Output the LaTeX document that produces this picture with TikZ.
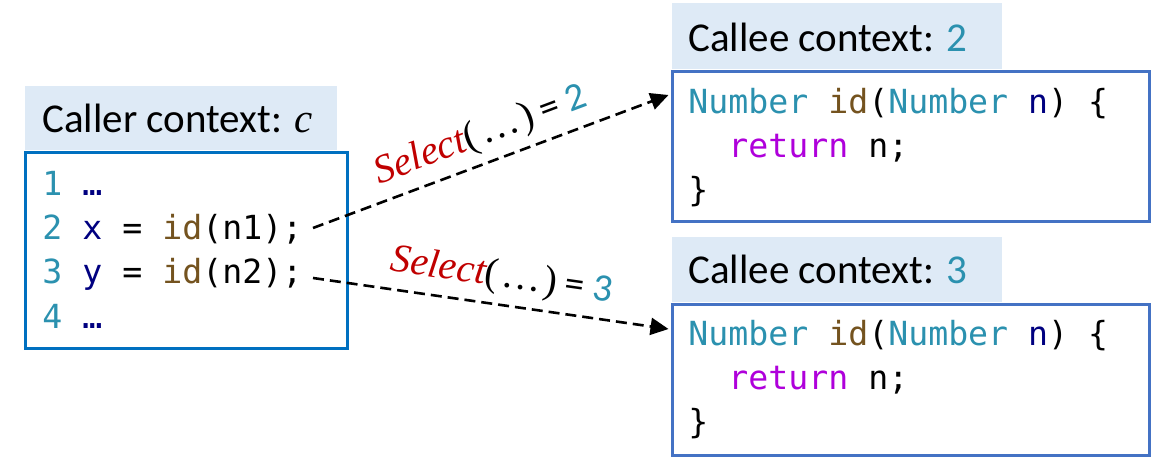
\documentclass[tikz,border=0pt]{standalone}
\usepackage{fontspec}
\setmainfont{Carlito}
\newfontfamily\codefont{DejaVu Sans Mono}
\newfontfamily\selfont{Liberation Serif}
\usetikzlibrary{arrows.meta}
\definecolor{headfill}{HTML}{DEEAF6}
\definecolor{callerblue}{HTML}{0070C0}
\definecolor{calleeblue}{HTML}{4472C4}
\definecolor{tealc}{HTML}{2B91AF}
\definecolor{navyc}{HTML}{000080}
\definecolor{brownc}{HTML}{74531F}
\definecolor{purplec}{HTML}{AF00DB}
\definecolor{redc}{HTML}{C00000}
\tikzset{
  headbox/.style={fill=headfill, draw=none, inner sep=0pt},
  callerframe/.style={draw=callerblue, line width=1.5pt, inner sep=0pt, fill=white},
  calleeframe/.style={draw=calleeblue, line width=1.5pt, inner sep=0pt, fill=white},
  headtext/.style={anchor=base west, inner sep=0pt, font=\fontsize{20.5}{24}\selectfont},
  codetext/.style={anchor=base west, inner sep=0pt, font=\codefont\fontsize{16.6}{20}\selectfont},
  conn/.style={draw=black, line width=1.3pt, dash pattern=on 5.5pt off 3pt, -{Triangle[length=9pt,width=8.5pt]}},
  sellabel/.style={sloped, above=4pt, inner sep=0pt, pos=0.5}
}
\newcommand{\selname}{{\color{redc}\selfont\itshape\fontsize{20}{24}\selectfont Select}}
\newcommand{\selargs}{{\selfont\fontsize{20}{24}\selectfont(\kern1.5pt…\kern1.5pt)}}
\newcommand{\seleq}[1]{{\fontsize{19.5}{22}\selectfont\kern4pt= {\color{tealc}#1}}}
\begin{document}
\begin{tikzpicture}[x=0.5pt,y=-0.5pt]
\useasboundingbox (0,0) rectangle (1165,460);
% caller
\node[headbox, minimum width=156pt, minimum height=32pt] (h0) at (181,118) {};
\node[callerframe, minimum width=161pt, minimum height=98pt] (b0) at (186,250) {};
\node[headtext] (t0) at (42,133) {Caller context: {\selfont\itshape c}};
\node[codetext] (c1) at (42,195) {{\color{tealc}1} {\color{navyc}…}};
\node[codetext] (c2) at (42,239) {{\color{tealc}2} {\color{navyc}x} = {\color{brownc}id}(n1);};
\node[codetext] (c3) at (42,283) {{\color{tealc}3} {\color{navyc}y} = {\color{brownc}id}(n2);};
\node[codetext] (c4) at (42,328) {{\color{tealc}4} {\color{navyc}…}};
% callee 2
\node[headbox, minimum width=165pt, minimum height=33pt] (h1) at (837,36) {};
\node[calleeframe, minimum width=238.5pt, minimum height=74.5pt] (b1) at (910.5,146.5) {};
\node[headtext] (t1) at (688,52) {Callee context: {\color{tealc}2}};
\node[codetext] (d1) at (688,113) {{\color{tealc}Number} {\color{brownc}id}({\color{tealc}Number} {\color{navyc}n}) \{};
\node[codetext] (d2) at (688,157) {\ \ {\color{purplec}return} n;};
\node[codetext] (d3) at (688,201) {\}};
% callee 3
\node[headbox, minimum width=165pt, minimum height=32.5pt] (h2) at (837,269.5) {};
\node[calleeframe, minimum width=238.5pt, minimum height=75.5pt] (b2) at (910.5,379.5) {};
\node[headtext] (t2) at (688,283) {Callee context: {\color{tealc}3}};
\node[codetext] (e1) at (688,345) {{\color{tealc}Number} {\color{brownc}id}({\color{tealc}Number} {\color{navyc}n}) \{};
\node[codetext] (e2) at (688,389) {\ \ {\color{purplec}return} n;};
\node[codetext] (e3) at (688,433) {\}};
% connectors
\coordinate (s1) at (313,228);
\coordinate (s2) at (313,278);
\path[conn] (s1) -- node[sellabel] (L1) {\selname\selargs\seleq{2}} ([yshift=25.75pt,xshift=-1pt]b1.west);
\path[conn] (s2) -- node[sellabel, pos=0.52] (L2) {\selname\selargs\seleq{3}} ([yshift=25.25pt,xshift=-1pt]b2.west);
\end{tikzpicture}
\end{document}
